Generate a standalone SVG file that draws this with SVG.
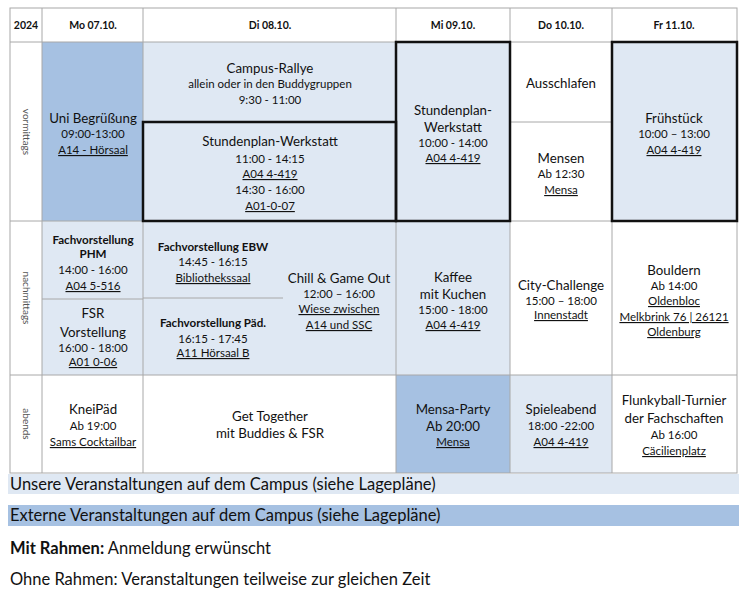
<svg xmlns="http://www.w3.org/2000/svg" width="749" height="598" viewBox="0 0 749 598">
<style>
text{font-family:Lato,"Liberation Sans",sans-serif;fill:#111;text-anchor:middle}
.h{font-size:10.5px;font-weight:bold}
.t{font-size:13.3px}
.s{font-size:11.5px}
.b{font-size:11.6px;font-weight:bold}
.u{text-decoration:underline}
.v{font-size:10px;fill:#555}
.lg{font-size:16.5px;text-anchor:start}
.light{fill:#dfe8f3}
.dark{fill:#a6c1e2}
.grid{stroke:#a8a8a8;stroke-width:1;fill:none}
.frame{stroke:#111;stroke-width:2.5;fill:none}
</style>
<rect width="749" height="598" fill="#fff"/>
<g id="fills">
<rect class="dark" x="42" y="42" width="101" height="179"/>
<rect class="light" x="143" y="42" width="253" height="179"/>
<rect class="light" x="396" y="42" width="114" height="179"/>
<rect class="light" x="612" y="42" width="125" height="179"/>
<rect class="light" x="42" y="221" width="468" height="154"/>
<rect class="dark" x="396" y="375" width="114" height="98"/>
<rect class="light" x="510" y="375" width="102" height="98"/>
</g>
<g id="grid" class="grid">
<rect x="10" y="8" width="727" height="465"/>
<path d="M10 42H737M10 221H737M10 375H737M42 8V473M143 8V473M396 8V473M510 8V473M612 8V473M510 122H612M42 299H143M143 298H283"/>
</g>
<g id="frames" class="frame">
<rect x="143" y="122" width="253" height="99"/>
<rect x="396" y="42" width="114" height="179"/>
<rect x="612" y="42" width="125" height="179"/>
</g>
<g id="header">
<text class="h" x="26" y="29">2024</text>
<text class="h" x="93" y="29">Mo 07.10.</text>
<text class="h" x="270" y="29">Di 08.10.</text>
<text class="h" x="453" y="29">Mi 09.10.</text>
<text class="h" x="561" y="29">Do 10.10.</text>
<text class="h" x="674" y="29">Fr 11.10.</text>
</g>
<g id="rowlabels">
<text class="v" transform="translate(23 132) rotate(90)">vormittags</text>
<text class="v" transform="translate(23 298) rotate(90)">nachmittags</text>
<text class="v" transform="translate(23 424) rotate(90)">abends</text>
</g>
<g id="mo-vm">
<text class="t" x="93" y="123">Uni Begrüßung</text>
<text class="s" x="93" y="138">09:00-13:00</text>
<text class="s u" x="93" y="154">A14 - Hörsaal</text>
</g>
<g id="di-rallye">
<text class="t" x="270" y="73">Campus-Rallye</text>
<text class="s" x="270" y="88">allein oder in den Buddygruppen</text>
<text class="s" x="270" y="104">9:30 - 11:00</text>
</g>
<g id="di-werkstatt">
<text class="t" x="270" y="146">Stundenplan-Werkstatt</text>
<text class="s" x="270" y="163">11:00 - 14:15</text>
<text class="s u" x="270" y="178">A04 4-419 </text>
<text class="s" x="270" y="194">14:30 - 16:00</text>
<text class="s u" x="270" y="210">A01-0-07</text>
</g>
<g id="mi-vm">
<text class="t" x="453" y="115">Stundenplan-</text>
<text class="t" x="453" y="132">Werkstatt</text>
<text class="s" x="453" y="147">10:00 - 14:00</text>
<text class="s u" x="453" y="162">A04 4-419</text>
</g>
<g id="do-ausschlafen">
<text class="t" x="561" y="88">Ausschlafen</text>
</g>
<g id="do-mensen">
<text class="t" x="561" y="163">Mensen</text>
<text class="s" x="561" y="178">Ab 12:30</text>
<text class="s u" x="561" y="194">Mensa</text>
</g>
<g id="fr-vm">
<text class="t" x="674" y="123">Frühstück</text>
<text class="s" x="674" y="138">10:00 – 13:00</text>
<text class="s u" x="674" y="154">A04 4-419</text>
</g>
<g id="mo-phm">
<text class="b" x="93" y="244">Fachvorstellung</text>
<text class="b" x="93" y="258">PHM</text>
<text class="s" x="93" y="274">14:00 - 16:00</text>
<text class="s u" x="93" y="290">A04 5-516</text>
</g>
<g id="mo-fsr">
<text class="t" x="93" y="318">FSR</text>
<text class="t" x="93" y="337">Vorstellung</text>
<text class="s" x="93" y="352">16:00 - 18:00</text>
<text class="s u" x="93" y="366">A01 0-06</text>
</g>
<g id="di-ebw">
<text class="b" x="213" y="251">Fachvorstellung EBW</text>
<text class="s" x="213" y="266">14:45 - 16:15</text>
<text class="s u" x="213" y="282">Bibliothekssaal</text>
</g>
<g id="di-paed">
<text class="b" x="213" y="327">Fachvorstellung Päd.</text>
<text class="s" x="213" y="343">16:15 - 17:45</text>
<text class="s u" x="213" y="357">A11 Hörsaal B</text>
</g>
<g id="di-chill">
<text class="t" x="339" y="283">Chill &amp; Game Out</text>
<text class="s" x="339" y="298">12:00 – 16:00</text>
<text class="s u" x="339" y="313">Wiese zwischen</text>
<text class="s u" x="339" y="329">A14 und SSC</text>
</g>
<g id="mi-kaffee">
<text class="t" x="453" y="282">Kaffee</text>
<text class="t" x="453" y="299">mit Kuchen</text>
<text class="s" x="453" y="314">15:00 - 18:00</text>
<text class="s u" x="453" y="329">A04 4-419</text>
</g>
<g id="do-city">
<text class="t" x="561" y="290">City-Challenge</text>
<text class="s" x="561" y="305">15:00 – 18:00</text>
<text class="s u" x="561" y="319">Innenstadt</text>
</g>
<g id="fr-bouldern">
<text class="t" x="674" y="275">Bouldern</text>
<text class="s" x="674" y="290">Ab 14:00</text>
<text class="s u" x="674" y="305">Oldenbloc</text>
<text class="s u" x="674" y="321">Melkbrink 76 | 26121</text>
<text class="s u" x="674" y="336">Oldenburg</text>
</g>
<g id="mo-kneipaed">
<text class="t" x="93" y="414">KneiPäd</text>
<text class="s" x="93" y="430">Ab 19:00</text>
<text class="s u" x="93" y="446">Sams Cocktailbar</text>
</g>
<g id="di-gettogether">
<text class="t" x="270" y="421">Get Together</text>
<text class="t" x="270" y="438">mit Buddies &amp; FSR</text>
</g>
<g id="mi-party">
<text class="t" x="453" y="414">Mensa-Party</text>
<text class="t" x="453" y="431">Ab 20:00</text>
<text class="s u" x="453" y="446">Mensa</text>
</g>
<g id="do-spiele">
<text class="t" x="561" y="414">Spieleabend</text>
<text class="s" x="561" y="430">18:00 -22:00</text>
<text class="s u" x="561" y="446">A04 4-419</text>
</g>
<g id="fr-flunky">
<text class="t" x="674" y="405">Flunkyball-Turnier</text>
<text class="t" x="674" y="423">der Fachschaften</text>
<text class="s" x="674" y="439">Ab 16:00</text>
<text class="s u" x="674" y="455">Cäcilienplatz</text>
</g>
<g id="legend">
<rect class="light" x="8" y="474" width="731" height="20"/>
<rect class="dark" x="8" y="505" width="731" height="21"/>
<text class="lg" x="10" y="490">Unsere Veranstaltungen auf dem Campus (siehe Lagepläne)</text>
<text class="lg" x="10" y="521">Externe Veranstaltungen auf dem Campus (siehe Lagepläne)</text>
<text class="lg" x="10" y="554"><tspan font-weight="bold">Mit Rahmen:</tspan> Anmeldung erwünscht</text>
<text class="lg" x="10" y="585">Ohne Rahmen: Veranstaltungen teilweise zur gleichen Zeit</text>
</g>
</svg>
